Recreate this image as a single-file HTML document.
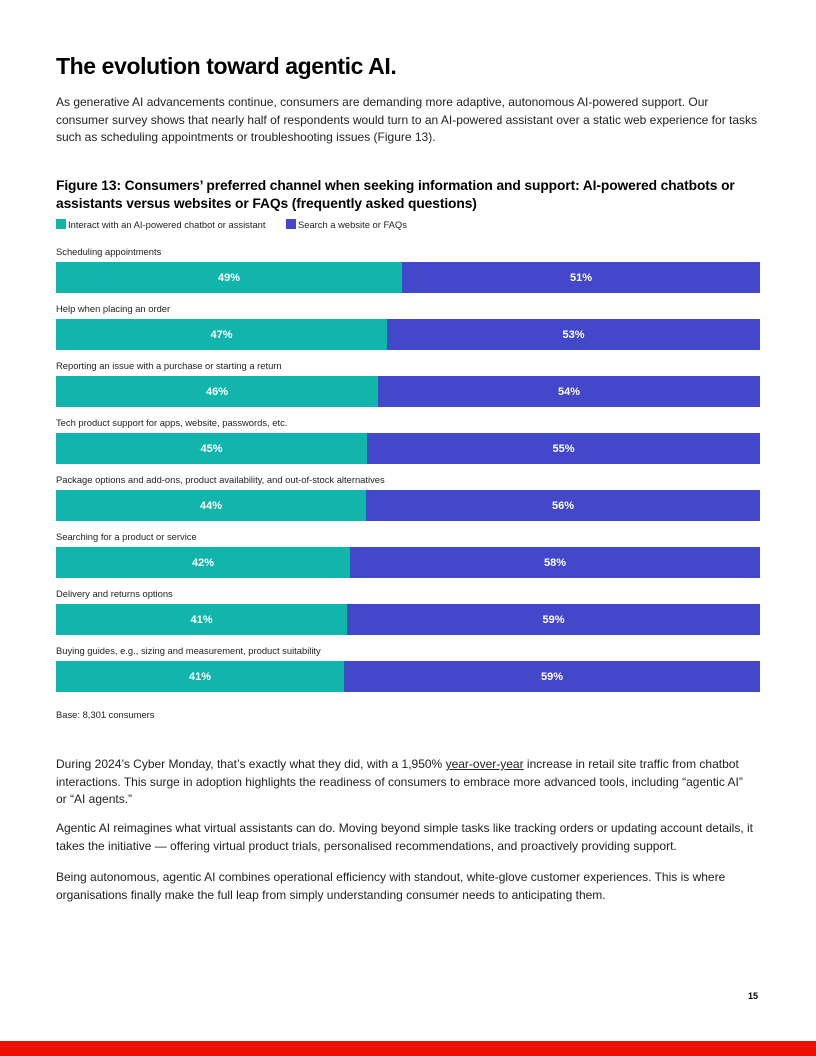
<!DOCTYPE html>
<html><head><meta charset="utf-8"><style>
*{margin:0;padding:0;box-sizing:border-box}
body{width:816px;height:1056px;position:relative;background:#fff;font-family:"Liberation Sans",sans-serif;color:#222;overflow:hidden}
.a{position:absolute}
h1{position:absolute;left:56px;top:53px;font-size:23px;font-weight:900;letter-spacing:-0.4px;color:#000}
p{position:absolute;left:56px;width:706px;font-size:12px;line-height:17.5px;color:#222}
.ft{position:absolute;left:56px;top:177px;font-size:13.8px;font-weight:900;line-height:18px;color:#000;letter-spacing:-0.1px;white-space:nowrap}
.lbl{position:absolute;left:56px;font-size:9.4px;color:#222}
.bar{position:absolute;left:56px;width:704px;height:31px;display:flex}
.bar div{height:100%;display:flex;align-items:center;justify-content:center;color:#fff;font-weight:900;font-size:11px}
.t{background:#12B5AC}.b{background:#4347C9}
</style></head><body>
<h1>The evolution toward agentic AI.</h1>
<p style="top:94px">As generative AI advancements continue, consumers are demanding more adaptive, autonomous AI-powered support. Our consumer survey shows that nearly half of respondents would turn to an AI-powered assistant over a static web experience for tasks such as scheduling appointments or troubleshooting issues (Figure 13).</p>
<div class="ft">Figure 13: Consumers’ preferred channel when seeking information and support: AI-powered chatbots or<br>assistants versus websites or FAQs (frequently asked questions)</div>
<div class="a" style="left:56px;top:219px;width:10px;height:10px;background:#12B5AC"></div>
<div class="lbl" style="left:68px;top:219px">Interact with an AI-powered chatbot or assistant</div>
<div class="a" style="left:286px;top:219px;width:10px;height:10px;background:#4347C9"></div>
<div class="lbl" style="left:298px;top:219px">Search a website or FAQs</div>

<div class="lbl" style="top:246px">Scheduling appointments</div>
<div class="bar" style="top:262px"><div class="t" style="width:346px">49%</div><div class="b" style="flex:1">51%</div></div>
<div class="lbl" style="top:303px">Help when placing an order</div>
<div class="bar" style="top:319px"><div class="t" style="width:331px">47%</div><div class="b" style="flex:1">53%</div></div>
<div class="lbl" style="top:360px">Reporting an issue with a purchase or starting a return</div>
<div class="bar" style="top:376px"><div class="t" style="width:322px">46%</div><div class="b" style="flex:1">54%</div></div>
<div class="lbl" style="top:417px">Tech product support for apps, website, passwords, etc.</div>
<div class="bar" style="top:433px"><div class="t" style="width:311px">45%</div><div class="b" style="flex:1">55%</div></div>
<div class="lbl" style="top:474px">Package options and add-ons, product availability, and out-of-stock alternatives</div>
<div class="bar" style="top:490px"><div class="t" style="width:310px">44%</div><div class="b" style="flex:1">56%</div></div>
<div class="lbl" style="top:531px">Searching for a product or service</div>
<div class="bar" style="top:547px"><div class="t" style="width:294px">42%</div><div class="b" style="flex:1">58%</div></div>
<div class="lbl" style="top:588px">Delivery and returns options</div>
<div class="bar" style="top:604px"><div class="t" style="width:291px">41%</div><div class="b" style="flex:1">59%</div></div>
<div class="lbl" style="top:645px">Buying guides, e.g., sizing and measurement, product suitability</div>
<div class="bar" style="top:661px"><div class="t" style="width:288px">41%</div><div class="b" style="flex:1">59%</div></div>
<div class="lbl" style="top:709px">Base: 8,301 consumers</div>

<p style="top:756px">During 2024’s Cyber Monday, that’s exactly what they did, with a 1,950% <u>year-over-year</u> increase in retail site traffic from chatbot interactions. This surge in adoption highlights the readiness of consumers to embrace more advanced tools, including “agentic AI”<br>or “AI agents.”</p>
<p style="top:820px">Agentic AI reimagines what virtual assistants can do. Moving beyond simple tasks like tracking orders or updating account details, it takes the initiative — offering virtual product trials, personalised recommendations, and proactively providing support.</p>
<p style="top:869px">Being autonomous, agentic AI combines operational efficiency with standout, white-glove customer experiences. This is where organisations finally make the full leap from simply understanding consumer needs to anticipating them.</p>
<div class="a" style="left:748px;top:991px;font-size:9px;font-weight:900;color:#000">15</div>
<div class="a" style="left:0;top:1041px;width:816px;height:15px;background:#EB1000"></div>
</body></html>
